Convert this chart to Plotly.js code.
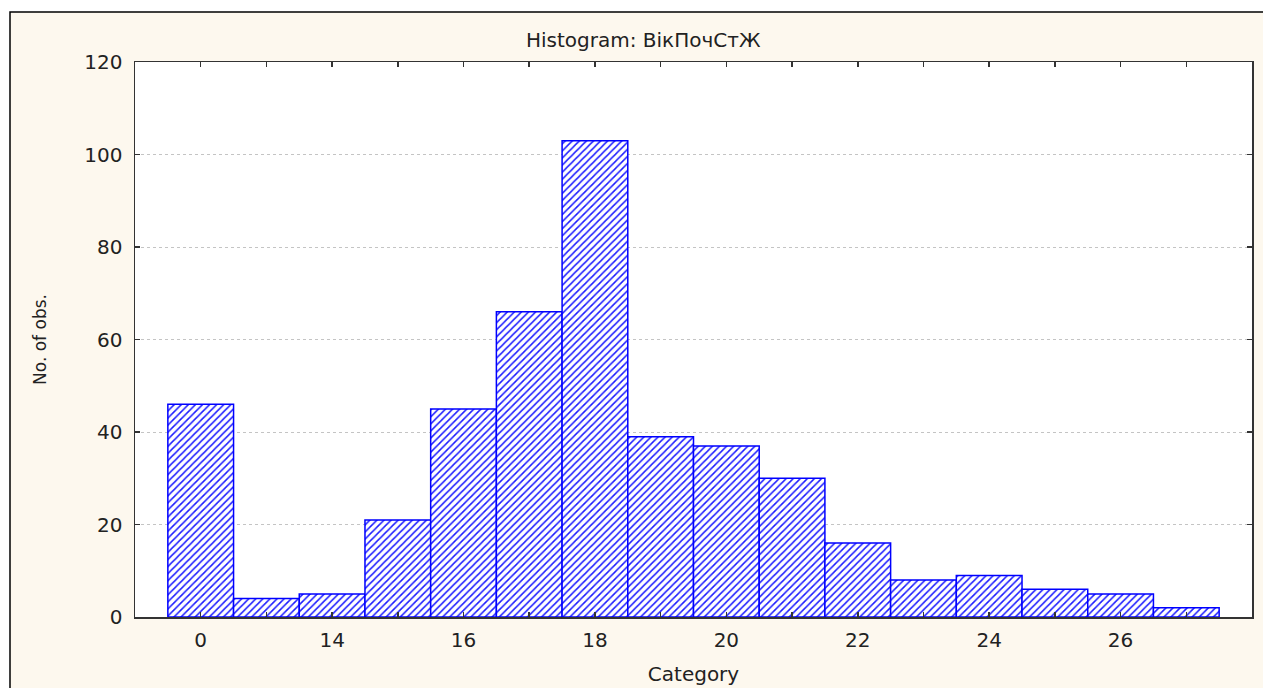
<!DOCTYPE html>
<html>
<head>
<meta charset="utf-8">
<script src="https://cdn.plot.ly/plotly-3.0.1.min.js"></script>
<style>
html,body{margin:0;padding:0;background:#ffffff;}
#chart{width:1263px;height:688px;}
</style>
</head>
<body>
<div id="chart"></div>
<script>
// Data
const categories = ["0", "13", "14", "15", "16", "17", "18", "19", "20", "21", "22", "23", "24", "25", "26", "27"];
const counts = [46, 4, 5, 21, 45, 66, 103, 39, 37, 30, 16, 8, 9, 6, 5, 2];
const labeledCategories = ["0", "14", "16", "18", "20", "22", "24", "26"];
const yTicks = [0, 20, 40, 60, 80, 100, 120];

const positions = categories.map((c, i) => i);
const tickText = categories.map(c => labeledCategories.includes(c) ? c : "");

const fam = "DejaVu Sans, Liberation Sans, Arial, sans-serif";
const font = {family: fam, size: 20, color: "#222222"};

const trace = {
  type: "bar",
  x: positions,
  y: counts,
  width: 1,
  marker: {
    color: "#ffffff",
    line: {color: "#0000ff", width: 1.5},
    pattern: {shape: "/", fgcolor: "#1a1aff", bgcolor: "#ffffff", size: 5, solidity: 0.3}
  },
  hoverinfo: "x+y"
};

// pixel helpers for the outer frame (plot area: x 135..1252, y 62..617)
const px = x => (x - 135) / 1117;
const py = y => (617 - y) / 555;

const layout = {
  width: 1263,
  height: 688,
  margin: {l: 135, r: 11, t: 62, b: 71},
  paper_bgcolor: "#fdf8ee",
  plot_bgcolor: "#ffffff",
  font: font,
  showlegend: false,
  bargap: 0,
  title: {
    text: "Histogram: ВікПочСтЖ",
    font: {family: fam, size: 20, color: "#222222"},
    xref: "paper", x: 0.455, xanchor: "center",
    yref: "container", y: 1 - 40/688, yanchor: "middle"
  },
  xaxis: {
    range: [-1, 16],
    tickmode: "array",
    tickvals: positions,
    ticktext: tickText,
    ticks: "inside",
    ticklen: 5,
    tickwidth: 1.5,
    tickcolor: "#333333",
    showline: true,
    linecolor: "#333333",
    linewidth: 1.5,
    mirror: "ticks",
    showgrid: false,
    zeroline: false,
    tickfont: font,
    ticklabelstandoff: 4,
    title: {text: "Category", font: font, standoff: 16},
    fixedrange: true
  },
  yaxis: {
    range: [0, 120],
    tickmode: "array",
    tickvals: yTicks,
    ticks: "inside",
    ticklen: 5,
    tickwidth: 1.5,
    tickcolor: "#333333",
    showline: true,
    linecolor: "#333333",
    linewidth: 1.5,
    mirror: "ticks",
    showgrid: true,
    gridcolor: "#c4c4c4",
    griddash: "dot",
    gridwidth: 1,
    zeroline: false,
    tickfont: font,
    ticklabelstandoff: 7,
    title: {text: "No. of obs.", font: {family: fam, size: 17, color: "#222222"}, standoff: 33},
    fixedrange: true
  },
  shapes: [
    // white strips outside the frame
    {type: "rect", layer: "below", xref: "paper", yref: "paper",
     x0: px(-5), x1: px(1270), y0: py(12), y1: py(-5),
     fillcolor: "#ffffff", line: {width: 0}},
    {type: "rect", layer: "below", xref: "paper", yref: "paper",
     x0: px(-5), x1: px(10), y0: py(700), y1: py(-5),
     fillcolor: "#ffffff", line: {width: 0}},
    // frame line
    {type: "rect", layer: "above", xref: "paper", yref: "paper",
     x0: px(10), x1: px(1275), y0: py(700), y1: py(12),
     fillcolor: "rgba(0,0,0,0)", line: {color: "#000000", width: 1.5}}
  ]
};

Plotly.newPlot("chart", [trace], layout, {displayModeBar: false, staticPlot: true});
</script>
</body>
</html>
